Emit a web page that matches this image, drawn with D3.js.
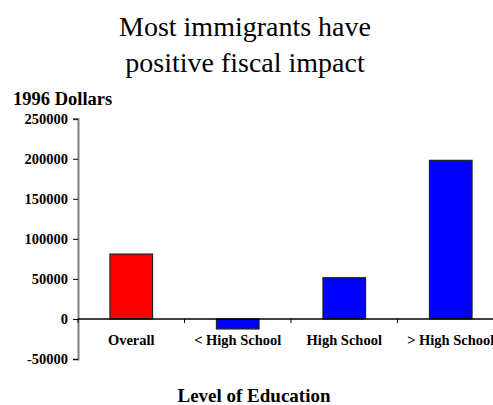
<!DOCTYPE html>
<html>
<head>
    <meta charset="utf-8">
    <title>Fiscal impact</title>
    <script src="https://d3js.org/d3.v7.min.js"></script>
    <style>
        body { margin: 0; background: #fff; }
        svg text { font-family: "Liberation Serif", "Times New Roman", Times, serif !important; }
    </style>
</head>
<body>
    <svg></svg>
    <script type="text/javascript">
        const categories = ["Overall", "< High School", "High School", "> High School"]
        const values = [81000, -12500, 51500, 198000]
        const colors = ["#ff0000", "#0000ff", "#0000ff", "#0000ff"]
        const yTicks = [-50000, 0, 50000, 100000, 150000, 200000, 250000]

        let main = d3.select("svg").attr("width", 493).attr("height", 405)

        let xScale = d3.scaleBand()
            .domain(categories)
            .range([78, 504])
            .paddingInner(0.6)
            .paddingOuter(0.3)

        let yScale = d3.scaleLinear()
            .domain([-50000, 250000])
            .range([359, 118.7])

        // title
        main.append("text")
            .attr("x", 245).attr("y", 36)
            .attr("text-anchor", "middle")
            .style("font-size", "28px")
            .text("Most immigrants have")
        main.append("text")
            .attr("x", 245).attr("y", 72)
            .attr("text-anchor", "middle")
            .style("font-size", "28px")
            .text("positive fiscal impact")

        main.append("text")
            .attr("x", 13).attr("y", 105)
            .style("font-size", "18.5px").style("font-weight", "bold")
            .text("1996 Dollars")

        // y axis
        let yAxis = main.append("g")
            .attr("transform", "translate(78,0)")
            .call(d3.axisLeft(yScale).tickValues(yTicks).tickSize(5).tickPadding(5).tickFormat(d => String(d)))
        yAxis.select(".domain").attr("stroke", "#808080").attr("stroke-width", 2)
        yAxis.selectAll(".tick line").attr("stroke", "#000")
        yAxis.selectAll("text")
            .style("font-size", "14.5px").style("font-weight", "bold")

        // bars
        main.selectAll("rect.bar")
            .data(values)
            .enter()
            .append("rect")
            .attr("class", "bar")
            .attr("x", (d, i) => xScale(categories[i]))
            .attr("width", xScale.bandwidth())
            .attr("y", d => yScale(Math.max(0, d)))
            .attr("height", d => Math.abs(yScale(d) - yScale(0)))
            .attr("fill", (d, i) => colors[i])
            .attr("stroke", "#222")
            .attr("stroke-width", 1.2)

        // x axis at zero
        let boundaries = categories.map(c => xScale(c) - xScale.step() * 0.3)
        main.append("line")
            .attr("x1", 78).attr("x2", 504)
            .attr("y1", yScale(0)).attr("y2", yScale(0))
            .attr("stroke", "#000").attr("stroke-width", 1.5)
        main.selectAll("line.xtick")
            .data(boundaries)
            .enter()
            .append("line")
            .attr("class", "xtick")
            .attr("x1", d => d).attr("x2", d => d)
            .attr("y1", yScale(0)).attr("y2", yScale(0) + 4)
            .attr("stroke", "#000")

        main.selectAll("text.cat")
            .data(categories)
            .enter()
            .append("text")
            .attr("class", "cat")
            .attr("x", d => xScale(d) + xScale.bandwidth() / 2)
            .attr("y", 345)
            .attr("text-anchor", "middle")
            .style("font-size", "14.5px").style("font-weight", "bold")
            .text(d => d)

        main.append("text")
            .attr("x", 254).attr("y", 402)
            .attr("text-anchor", "middle")
            .style("font-size", "19px").style("font-weight", "bold")
            .text("Level of Education")
    </script>
</body>
</html>
